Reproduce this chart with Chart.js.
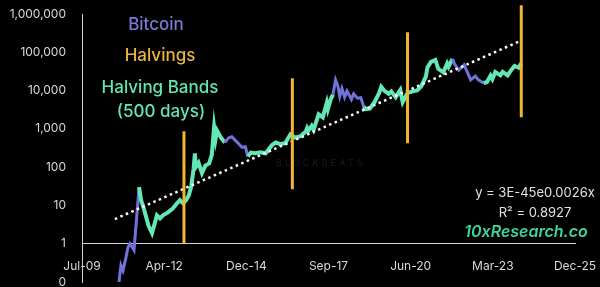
<!DOCTYPE html>
<html>
<head>
<meta charset="utf-8">
<script src="https://cdn.jsdelivr.net/npm/chart.js@4.4.1/dist/chart.umd.min.js"></script>
<style>
  html, body { margin: 0; padding: 0; background: #000; }
  #wrap { width: 600px; height: 287px; position: relative; }
</style>
</head>
<body>
<div id="wrap"><canvas id="myChart"></canvas></div>
<script>
// bitcoin price (log scale)
const priceDates = [
  '2010-09-29', '2010-10-23', '2010-11-17', '2010-12-23', '2011-01-17', '2011-02-10', '2011-03-31',
  '2011-06-01', '2011-06-26', '2011-07-20', '2011-08-20', '2011-09-25', '2011-11-05',
  '2012-01-04', '2012-02-10', '2012-03-17', '2012-05-17', '2012-07-17', '2012-09-04', '2012-10-10',
  '2012-11-16', '2012-12-20', '2013-01-25', '2013-02-25', '2013-03-25', '2013-04-10', '2013-04-20',
  '2013-05-25', '2013-07-05', '2013-08-15', '2013-10-01', '2013-11-01', '2013-11-30', '2013-12-18',
  '2014-01-05', '2014-02-10', '2014-03-01', '2014-04-10', '2014-05-25', '2014-07-04', '2014-08-15',
  '2014-09-25', '2014-11-05', '2014-12-15', '2015-01-14', '2015-02-20', '2015-04-15', '2015-06-15',
  '2015-08-20', '2015-11-05', '2015-12-20', '2016-02-15', '2016-04-15', '2016-06-15', '2016-07-09',
  '2016-08-10', '2016-10-15', '2016-12-20', '2017-01-05', '2017-01-20', '2017-03-01', '2017-03-25',
  '2017-05-25', '2017-07-15', '2017-09-01', '2017-09-15', '2017-10-20', '2017-11-15', '2017-12-17',
  '2018-01-15', '2018-02-06', '2018-03-05', '2018-04-06', '2018-05-05', '2018-06-28', '2018-07-25',
  '2018-09-10', '2018-10-20', '2018-11-25', '2018-12-15', '2019-02-07', '2019-04-05', '2019-05-30',
  '2019-06-26', '2019-08-01', '2019-09-25', '2019-10-26', '2019-12-18', '2020-02-12', '2020-03-13',
  '2020-05-11', '2020-07-25', '2020-09-05', '2020-10-25', '2020-12-20', '2021-01-08', '2021-02-20',
  '2021-04-14', '2021-05-20', '2021-07-20', '2021-09-05', '2021-09-22', '2021-11-09', '2021-12-05',
  '2022-01-24', '2022-03-30', '2022-05-12', '2022-06-18', '2022-08-14', '2022-09-20', '2022-11-21',
  '2023-01-01', '2023-02-15', '2023-03-10', '2023-04-14', '2023-06-15', '2023-07-13', '2023-09-11',
  '2023-10-25', '2023-12-05', '2024-01-23', '2024-02-24'
];
const priceValues = [
  0.1, 0.27, 0.2, 0.44, 0.81, 1.0, 0.68,
  30, 13.5, 9.5, 5.5, 2.9, 1.9,
  5.5, 4.6, 5.5, 6.6, 8.4, 11.4, 13.7,
  11.4, 13.5, 18, 32, 90, 230, 100,
  130, 70, 110, 125, 205, 1100, 550,
  900, 650, 560, 440, 580, 620, 500,
  410, 330, 340, 190, 240, 230, 245,
  230, 380, 440, 400, 430, 720, 660,
  590, 640, 850, 1050, 900, 1200, 950,
  2400, 2000, 4800, 3300, 6000, 7800, 19000,
  13000, 7000, 11400, 6700, 9800, 5900, 8200,
  6300, 6500, 3800, 3300, 3400, 5000, 8500,
  12500, 10000, 8200, 9500, 6700, 10300, 5000,
  8700, 9700, 10100, 13000, 23000, 40000, 56000,
  63000, 37000, 30000, 51000, 42000, 67000, 49000,
  34000, 47000, 29000, 19000, 24000, 19000, 15800,
  16600, 24500, 20000, 30500, 25000, 31000, 25000,
  34500, 44000, 39500, 51500
];

// halving bands (green part of the line)
const bandStarts = ['2011-06-05', '2015-01-20', '2018-11-20', '2022-12-01'];
const bandEnds = ['2014-04-25', '2017-11-28', '2021-10-25', '2024-03-01'];

// halvings (vertical bars)
const halvingDates = ['2012-11-28', '2016-07-09', '2020-05-11', '2024-02-24'];
const halvingTops = [865, 21000, 333000, 1690000];
const halvingBottoms = [1, 26.5, 421, 2010];

// exponential trend line, start and end
const trendDates = ['2010-08-10', '2024-02-05'];
const trendValues = [4.4, 194000];

const yTicks = [0.1, 1, 10, 100, 1000, 10000, 100000, 1000000];
const xMin = 40000;   // excel serial, Jul-09
const xMax = 46000;   // Dec-25
const xStep = 1000;

const meses = ['Jan', 'Feb', 'Mar', 'Apr', 'May', 'Jun', 'Jul', 'Aug', 'Sep', 'Oct', 'Nov', 'Dec'];
const base = Date.UTC(1899, 11, 30);

function serial(d) {
    return (Date.parse(d) - base) / 86400000;
}

function rotuloData(s) {
    var d = new Date(base + s * 86400000);
    return meses[d.getUTCMonth()] + '-' + String(d.getUTCFullYear() % 100).padStart(2, '0');
}

const bandas = bandStarts.map((b, i) => [serial(b), serial(bandEnds[i])]);

function naBanda(x) {
    return bandas.some(b => x >= b[0] && x <= b[1]);
}

const azul = '#7272dc';
const verde = '#62e8b4';
const laranja = '#f2b534';

const datasets = [];

datasets.push({
    label: 'Bitcoin',
    data: priceDates.map((d, i) => ({ x: serial(d), y: priceValues[i] })),
    borderColor: azul,
    borderWidth: 3,
    pointRadius: 0,
    tension: 0,
    order: 3,
    segment: {
        borderColor: ctx => naBanda((ctx.p0.parsed.x + ctx.p1.parsed.x) / 2) ? verde : azul,
        borderWidth: ctx => naBanda((ctx.p0.parsed.x + ctx.p1.parsed.x) / 2) ? 4 : 3
    }
});

datasets.push({
    label: 'Trend',
    data: trendDates.map((d, i) => ({ x: serial(d), y: trendValues[i] })),
    borderColor: '#ffffff',
    borderWidth: 2.5,
    borderDash: [2.5, 3.5],
    pointRadius: 0,
    order: 2
});

halvingDates.forEach((d, i) => {
    datasets.push({
        label: 'Halving ' + (i + 1),
        data: [{ x: serial(d), y: halvingBottoms[i] }, { x: serial(d), y: halvingTops[i] }],
        borderColor: laranja,
        borderWidth: 3,
        pointRadius: 0,
        clip: false,
        order: 1
    });
});

const textos = {
    id: 'textos',
    beforeDatasetsDraw(chart) {
        const ctx = chart.ctx;
        ctx.save();
        ctx.fillStyle = '#141414';
        ctx.font = '600 9px Inter';
        ctx.letterSpacing = '3px';
        ctx.textAlign = 'left';
        ctx.fillText('BLOCKBEATS', 276, 166);
        ctx.restore();
    },
    afterDatasetsDraw(chart) {
        const ctx = chart.ctx;
        ctx.save();
        ctx.textAlign = 'center';
        ctx.font = '500 17px Inter';
        ctx.fillStyle = '#7b79d6';
        ctx.fillText('Bitcoin', 156, 30);
        ctx.fillStyle = '#eab53c';
        ctx.fillText('Halvings', 160, 61);
        ctx.fillStyle = verde;
        ctx.fillText('Halving Bands', 160, 93);
        ctx.fillText('(500 days)', 161, 117);

        ctx.fillStyle = '#e2e2e2';
        ctx.font = '13px Inter';
        ctx.fillText('y = 3E-45e0.0026x', 535, 197);
        ctx.fillText('R² = 0.8927', 535, 217);

        ctx.fillStyle = '#3fd49c';
        ctx.font = 'italic 600 16px Inter';
        ctx.fillText('10xResearch.co', 526, 237);
        ctx.restore();
    }
};

const config = {
    type: 'line',
    data: { datasets: datasets },
    options: {
        responsive: true,
        maintainAspectRatio: false,
        animation: false,
        layout: { padding: { left: 0, right: 25, top: 14, bottom: 5 } },
        plugins: { legend: { display: false }, tooltip: { enabled: false } },
        scales: {
            x: {
                type: 'linear',
                min: xMin,
                max: xMax,
                position: { y: 1 },
                grid: { drawOnChartArea: false, drawTicks: false },
                border: { color: '#cfcfcf', width: 1 },
                ticks: {
                    stepSize: xStep,
                    autoSkip: false,
                    maxRotation: 0,
                    padding: 15,
                    color: '#d9d9d9',
                    font: { family: 'Inter', size: 12 },
                    callback: v => rotuloData(v)
                },
                afterFit: s => { s.paddingLeft = 0; s.paddingRight = 0; }
            },
            y: {
                type: 'logarithmic',
                min: yTicks[0],
                max: yTicks[yTicks.length - 1],
                position: 'left',
                grid: { drawOnChartArea: false, drawTicks: false },
                border: { color: '#cfcfcf', width: 1 },
                afterBuildTicks: s => { s.ticks = yTicks.map(v => ({ value: v })); },
                afterFit: s => { s.width = 82; s.paddingTop = 0; s.paddingBottom = 0; },
                ticks: {
                    padding: 16,
                    color: '#d9d9d9',
                    font: { family: 'Inter', size: 12 },
                    callback: v => v < 1 ? '0' : Number(v).toLocaleString('en-US')
                }
            }
        }
    },
    plugins: [textos]
};

const myChart = new Chart(document.getElementById('myChart'), config);
</script>
</body>
</html>
